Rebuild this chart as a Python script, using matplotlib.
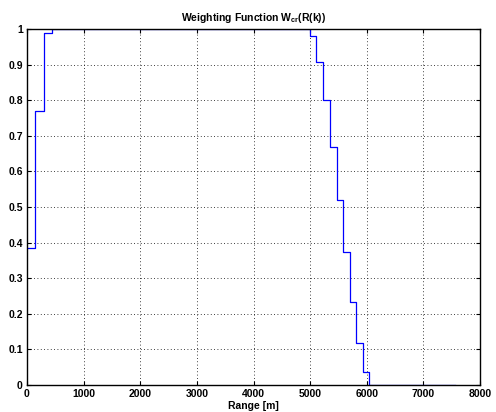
import matplotlib
matplotlib.use("Agg")
import matplotlib.pyplot as plt

range_m = [0, 150, 300, 450, 5000, 5110, 5230, 5350, 5470, 5585, 5700, 5815, 5930, 6045, 7560]
weights = [0.385, 0.77, 0.99, 1.0, 0.98, 0.907, 0.80, 0.668, 0.52, 0.373, 0.234, 0.117, 0.036, 0.0, 0.0]
xticks = [0, 1000, 2000, 3000, 4000, 5000, 6000, 7000, 8000]
yticks = [0, 0.1, 0.2, 0.3, 0.4, 0.5, 0.6, 0.7, 0.8, 0.9, 1]
ytick_labels = ["0", "0.1", "0.2", "0.3", "0.4", "0.5", "0.6", "0.7", "0.8", "0.9", "1"]

plt.rcParams['font.family'] = ['Liberation Sans', 'DejaVu Sans']
plt.rcParams['mathtext.fontset'] = 'custom'
plt.rcParams['mathtext.rm'] = 'Liberation Sans:bold'
plt.rcParams['mathtext.bf'] = 'Liberation Sans:bold'
plt.rcParams['mathtext.it'] = 'Liberation Sans:bold'
fig = plt.figure(figsize=(4.96, 4.12), dpi=100)
ax = fig.add_axes([27/496, 1-385/412, (480-27)/496, (385-29)/412])
ax.plot(range_m, weights, drawstyle='steps-post', color='#0000ff', lw=0.9)
ax.set_xlim(0, 8000)
ax.set_ylim(0, 1)
ax.set_xticks(xticks)
ax.set_xticklabels([str(t) for t in xticks], fontsize=7.5, fontweight='bold')
ax.set_yticks(yticks)
ax.set_yticklabels(ytick_labels, fontsize=7.5, fontweight='bold')
ax.tick_params(direction='in', top=True, right=True, length=3, width=0.8, pad=3)
ax.grid(True, linestyle=(0, (1, 3)), color='black', lw=0.6)
for s in ax.spines.values():
    s.set_linewidth(1.0)
ax.set_xlabel("Range [m]", fontsize=7.5, fontweight='bold', labelpad=1)
ax.set_title(r"Weighting Function W$_{\mathrm{cr}}$(R(k))", fontsize=7.5, fontweight='bold', pad=6)
fig.savefig("out.png", dpi=100)
